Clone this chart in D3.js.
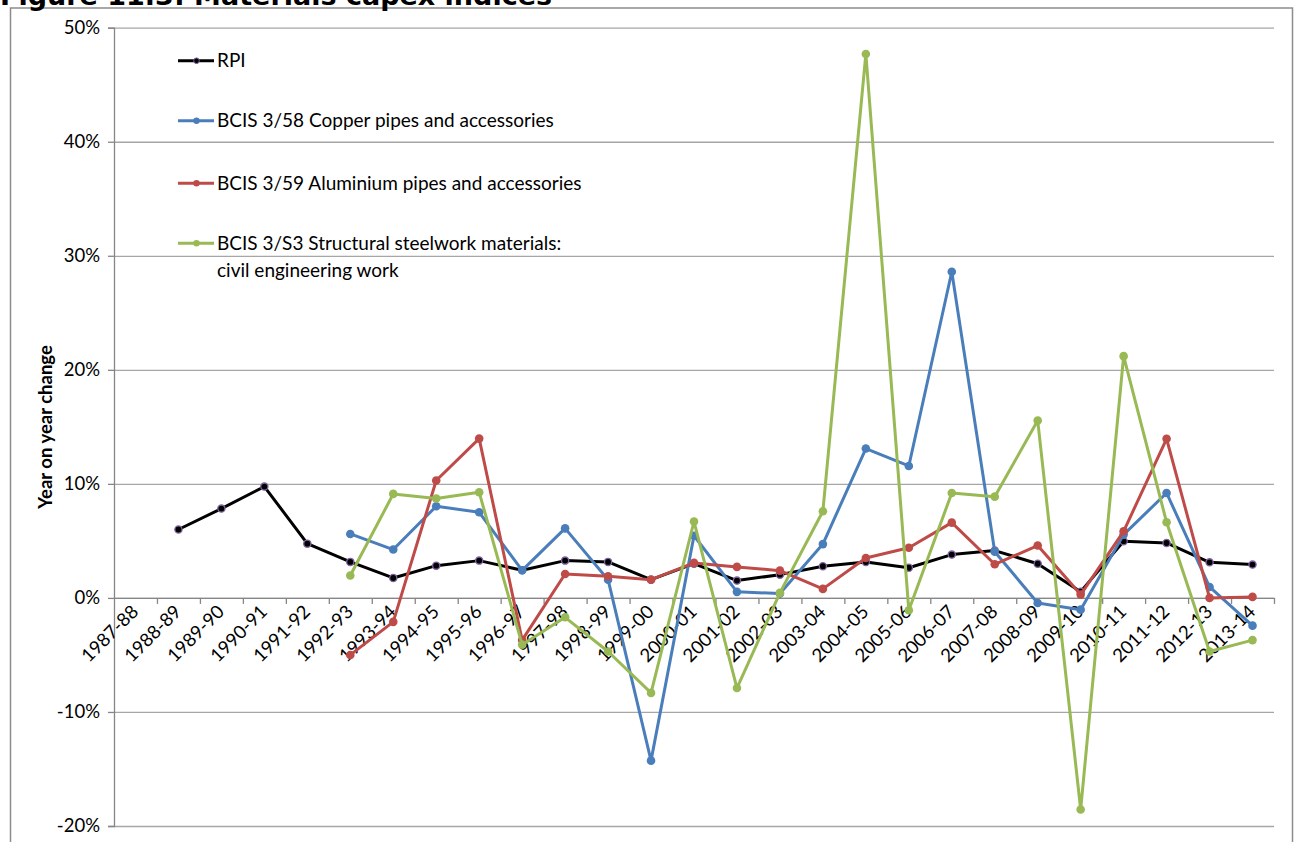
<!DOCTYPE html>
<html>
<head>
<meta charset="utf-8">
<script src="https://cdn.jsdelivr.net/npm/d3@7"></script>
<style>
  html, body { margin: 0; padding: 0; background: #ffffff; }
  svg { display: block; }
</style>
</head>
<body>
<div id="chart"></div>
<script>
// ---------- Data ----------
const categories = ["1987-88","1988-89","1989-90","1990-91","1991-92","1992-93","1993-94","1994-95","1995-96","1996-97",
  "1997-98","1998-99","1999-00","2000-01","2001-02","2002-03","2003-04","2004-05","2005-06","2006-07",
  "2007-08","2008-09","2009-10","2010-11","2011-12","2012-13","2013-14"];

const rpi       = [null, 6.0, 7.83, 9.76, 4.76, 3.16, 1.75, 2.83, 3.27, 2.42, 3.27, 3.16, 1.6, 3.0, 1.52, 2.04, 2.77, 3.15, 2.65, 3.8, 4.15, 3.0, 0.55, 4.97, 4.82, 3.12, 2.92];
const copper    = [null, null, null, null, null, 5.61, 4.24, 8.04, 7.51, 2.42, 6.1, 1.6, -14.27, 5.45, 0.53, 0.38, 4.72, 13.1, 11.57, 28.6, 4.05, -0.44, -1.03, 5.55, 9.2, 0.96, -2.43];
const aluminium = [null, null, null, null, null, -5.0, -2.1, 10.3, 13.97, -3.7, 2.1, 1.9, 1.6, 3.07, 2.72, 2.39, 0.79, 3.5, 4.4, 6.6, 2.95, 4.59, 0.29, 5.84, 13.95, 0.0, 0.09];
const steel     = [null, null, null, null, null, 1.96, 9.12, 8.71, 9.26, -4.1, -1.7, -4.7, -8.33, 6.7, -7.9, 0.44, 7.6, 47.7, -1.08, 9.2, 8.88, 15.55, -18.55, 21.2, 6.63, -4.7, -3.7];

const yTicks = [-20, -10, 0, 10, 20, 30, 40, 50];

const seriesNames = ["RPI", "BCIS 3/58 Copper pipes and accessories", "BCIS 3/59 Aluminium pipes and accessories",
  ["BCIS 3/S3 Structural steelwork materials:", "civil engineering work"]];
const seriesColors = ["#000000", "#4a7ebb", "#be4b48", "#98b954"];
const seriesData = [rpi, copper, aluminium, steel];

// ---------- Layout ----------
const W = 1298, H = 842;
const plot = { left: 114, right: 1274, top: 27.7, bottom: 826 };
const FONT = "Lato, 'Liberation Sans', Arial, sans-serif";

const svg = d3.select("#chart").append("svg").attr("width", W).attr("height", H);
svg.append("rect").attr("width", W).attr("height", H).attr("fill", "#fff");

// Frame
svg.append("rect")
  .attr("x", 10.5).attr("y", 8).attr("width", 1282).attr("height", 850)
  .attr("fill", "none").attr("stroke", "#8c8c8c").attr("stroke-width", 1.5);

// Title (partially cut off at top, as in the source)
svg.append("text")
  .attr("x", 0).attr("y", 5)
  .attr("font-family", "'DejaVu Sans', Verdana, sans-serif")
  .attr("font-weight", "bold").attr("font-size", 27)
  .attr("fill", "#000")
  .text("Figure 11.3: Materials capex indices");

const x = d3.scaleBand().domain(categories).range([plot.left, plot.right]).padding(0);
const xb = d3.scaleLinear().domain([0, categories.length]).range([plot.left, plot.right]);
const y = d3.scaleLinear().domain([-20, 50]).range([plot.bottom, plot.top]);
const cx = d => x(d) + x.bandwidth() / 2;

// Gridlines
const grid = svg.append("g").attr("transform", `translate(${plot.left},0)`)
  .call(d3.axisLeft(y).tickValues(yTicks).tickSize(-(plot.right - plot.left)).tickFormat(""));
grid.select(".domain").remove();
grid.selectAll("line").attr("stroke", "#a6a6a6").attr("stroke-width", 1.3);

// Y axis
const yAxis = svg.append("g").attr("transform", `translate(${plot.left},0)`)
  .call(d3.axisLeft(y).tickValues(yTicks).tickSize(6).tickPadding(8).tickFormat(d => d + "%"));
yAxis.select(".domain").attr("stroke", "#868686").attr("stroke-width", 1.3);
yAxis.selectAll("line").attr("stroke", "#868686").attr("stroke-width", 1.3);
yAxis.selectAll("text").attr("font-family", FONT).attr("font-size", 18.5).attr("fill", "#000");

// X axis at 0
const xAxis = svg.append("g").attr("transform", `translate(0,${y(0)})`)
  .call(d3.axisBottom(xb).tickValues(d3.range(1, categories.length + 1)).tickSize(6).tickFormat("").tickSizeOuter(0));
xAxis.select(".domain").attr("stroke", "#868686").attr("stroke-width", 1.3);
xAxis.selectAll("line").attr("stroke", "#868686").attr("stroke-width", 1.3);

// X labels (rotated)
svg.append("g").selectAll("text").data(categories).join("text")
  .attr("transform", d => `translate(${cx(d) + 4},${y(0) + 15}) rotate(-45)`)
  .attr("text-anchor", "end")
  .attr("font-family", FONT).attr("font-size", 18.5).attr("fill", "#000")
  .text(d => d);

// Y axis title
svg.append("text")
  .attr("transform", `translate(52,427) rotate(-90)`)
  .attr("text-anchor", "middle")
  .attr("font-family", FONT).attr("font-weight", "bold").attr("font-size", 18.5)
  .attr("fill", "#000")
  .text("Year on year change");

// Series lines and markers
const line = d3.line()
  .defined(d => d.v !== null)
  .x(d => cx(d.c)).y(d => y(d.v));

seriesData.forEach((arr, i) => {
  const pts = arr.map((v, j) => ({ c: categories[j], v }));
  svg.append("path").datum(pts)
    .attr("fill", "none").attr("stroke", seriesColors[i]).attr("stroke-width", 3)
    .attr("stroke-linejoin", "round")
    .attr("d", line);
  svg.append("g").selectAll("circle").data(pts.filter(d => d.v !== null)).join("circle")
    .attr("cx", d => cx(d.c)).attr("cy", d => y(d.v))
    .attr("r", i === 0 ? 3.6 : 4.3)
    .attr("fill", seriesColors[i])
    .attr("stroke", i === 0 ? "#8064a2" : "none")
    .attr("stroke-width", i === 0 ? 1.3 : 0);
});

// Legend
const legendY = [60.7, 120.7, 183.3, 243.3];
const lg = svg.append("g");
seriesNames.forEach((name, i) => {
  const g = lg.append("g").attr("transform", `translate(0,${legendY[i]})`);
  g.append("line").attr("x1", 178).attr("x2", 214).attr("y1", 0).attr("y2", 0)
    .attr("stroke", seriesColors[i]).attr("stroke-width", 3);
  g.append("circle").attr("cx", 196.5).attr("cy", 0).attr("r", i === 0 ? 2.8 : 3.2)
    .attr("fill", seriesColors[i])
    .attr("stroke", i === 0 ? "#8064a2" : "none").attr("stroke-width", 1);
  const lines = Array.isArray(name) ? name : [name];
  lines.forEach((t, k) => {
    g.append("text").attr("x", 217).attr("y", 6.5 + k * 27.5)
      .attr("font-family", FONT).attr("font-size", 19).attr("fill", "#000")
      .text(t);
  });
});
</script>
</body>
</html>
